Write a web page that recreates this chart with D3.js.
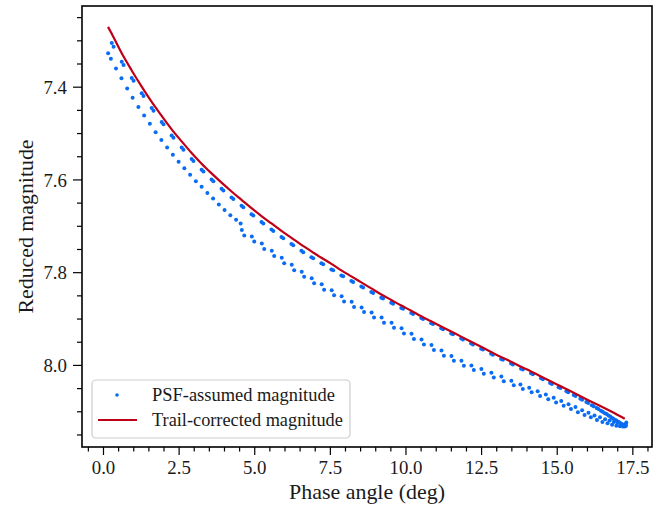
<!DOCTYPE html>
<html>
<head>
<meta charset="utf-8">
<script src="https://cdn.jsdelivr.net/npm/d3@7"></script>
<style>body{margin:0;background:#fff}svg{display:block}</style>
</head>
<body>
<svg id="c" width="665" height="510"></svg>
<script>
// ---------------- data ----------------
const redPhase = [0.166,0.29,0.62,0.95,1.28,1.61,1.94,2.27,2.60,2.93,3.26,3.59,3.92,4.25,4.58,4.91,5.24,5.57,5.90,6.23,6.56,6.89,7.22,7.55,7.88,8.21,8.54,8.87,9.20,9.53,9.86,10.19,10.52,10.85,11.18,11.51,11.84,12.17,12.50,12.83,13.16,13.49,13.82,14.15,14.48,15.06,15.56,15.98,16.46,16.82,17.25];
const redMag = [7.271,7.286,7.328,7.365,7.400,7.433,7.463,7.492,7.518,7.543,7.566,7.587,7.607,7.626,7.644,7.662,7.679,7.695,7.711,7.726,7.741,7.755,7.769,7.782,7.796,7.809,7.822,7.835,7.848,7.860,7.872,7.883,7.895,7.906,7.917,7.928,7.939,7.950,7.961,7.972,7.983,7.993,8.004,8.014,8.025,8.044,8.060,8.074,8.089,8.101,8.116];

const psfUpperPhase = [0.29,0.35,0.62,0.68,0.95,1.01,1.28,1.34,1.61,1.67,1.94,2.00,2.27,2.33,2.60,2.66,2.93,2.99,3.26,3.32,3.59,3.65,3.92,3.98,4.25,4.31,4.58,4.64,4.91,4.97,5.24,5.30,5.57,5.63,5.90,5.96,6.23,6.29,6.56,6.62,6.89,6.95,7.22,7.28,7.55,7.61,7.88,7.94,8.21,8.27,8.54,8.60,8.87,8.93,9.20,9.26,9.53,9.59,9.86,9.92,10.19,10.25,10.52,10.58,10.85,10.91,11.18,11.24,11.51,11.57,11.84,11.90,12.17,12.23,12.50,12.56,12.83,12.89,13.16,13.22,13.49,13.55,13.82,13.88,14.15,14.21,14.48,14.54,14.78,14.84,15.06,15.12,15.32,15.38,15.56,15.62,15.78,15.84,15.98,16.04,16.16,16.22,16.32,16.38,16.46,16.52,16.59,16.65,16.71,16.77,16.82,16.87,16.92,16.97,17.01,17.05,17.09,17.13,17.16,17.19,17.22,17.25];
const psfUpperMag = [7.306,7.314,7.346,7.353,7.381,7.387,7.414,7.420,7.446,7.452,7.476,7.481,7.505,7.510,7.531,7.536,7.556,7.560,7.579,7.583,7.600,7.604,7.620,7.624,7.639,7.642,7.657,7.660,7.675,7.678,7.692,7.695,7.708,7.711,7.724,7.727,7.739,7.742,7.754,7.757,7.768,7.770,7.781,7.783,7.794,7.796,7.807,7.809,7.819,7.821,7.831,7.833,7.843,7.845,7.855,7.857,7.866,7.868,7.877,7.879,7.888,7.890,7.899,7.901,7.910,7.912,7.921,7.923,7.932,7.934,7.943,7.945,7.954,7.956,7.965,7.967,7.976,7.978,7.987,7.989,7.997,7.999,8.008,8.010,8.018,8.020,8.029,8.031,8.039,8.041,8.048,8.050,8.057,8.059,8.065,8.067,8.073,8.075,8.080,8.082,8.087,8.089,8.093,8.095,8.099,8.101,8.104,8.106,8.109,8.111,8.114,8.116,8.118,8.120,8.122,8.123,8.125,8.127,8.128,8.129,8.130,8.131];

const psfLowerPhase = [0.17,0.26,0.43,0.61,0.80,0.98,1.17,1.36,1.55,1.74,1.93,2.12,2.31,2.50,2.69,2.88,3.07,3.26,3.45,3.64,3.83,4.02,4.21,4.40,4.55,
  4.59,4.67,4.92,5.00,5.25,5.33,5.58,5.66,5.91,5.99,6.24,6.32,6.57,6.65,6.90,6.98,7.23,7.31,7.56,7.64,7.89,7.97,8.22,8.30,8.55,8.63,8.88,8.96,9.21,9.29,9.54,9.62,9.87,9.95,10.20,10.28,10.53,10.61,10.86,10.94,11.19,11.27,11.52,11.60,11.85,11.93,12.18,12.26,12.51,12.59,12.84,12.92,13.17,13.25,13.50,13.58,13.80,13.88,14.09,14.17,14.37,14.45,14.64,14.72,14.90,14.98,15.15,15.23,15.39,15.47,15.62,15.70,15.84,15.92,16.05,16.13,16.25,16.33,16.43,16.51,16.60,16.68,16.75,16.83,16.89,16.97,17.01,17.09,17.11,17.19,17.19,17.25,17.25,17.29,17.29,17.30];
const psfLowerMag = [7.328,7.340,7.361,7.382,7.404,7.424,7.444,7.462,7.480,7.498,7.515,7.531,7.547,7.562,7.576,7.590,7.604,7.616,7.629,7.641,7.654,7.666,7.677,7.687,7.695,
  7.709,7.721,7.723,7.734,7.738,7.750,7.754,7.765,7.769,7.781,7.784,7.796,7.799,7.810,7.813,7.824,7.826,7.838,7.839,7.850,7.852,7.863,7.864,7.875,7.876,7.886,7.887,7.898,7.898,7.909,7.909,7.920,7.921,7.932,7.933,7.944,7.945,7.956,7.957,7.968,7.969,7.980,7.981,7.991,7.991,8.002,8.001,8.011,8.009,8.019,8.017,8.027,8.025,8.035,8.034,8.044,8.042,8.052,8.049,8.059,8.057,8.067,8.064,8.074,8.071,8.081,8.078,8.088,8.085,8.095,8.091,8.102,8.098,8.108,8.103,8.113,8.109,8.119,8.113,8.123,8.117,8.126,8.120,8.129,8.123,8.131,8.125,8.132,8.127,8.133,8.129,8.133,8.130,8.131,8.127,8.124];

const xMajor = [0,2.5,5,7.5,10,12.5,15,17.5];
const xTickLabels = ["0.0","2.5","5.0","7.5","10.0","12.5","15.0","17.5"];
const xMinor = [-0.5,0.5,1,1.5,2,3,3.5,4,4.5,5.5,6,6.5,7,8,8.5,9,9.5,10.5,11,11.5,12,13,13.5,14,14.5,15.5,16,16.5,17,18];
const yMajor = [7.4,7.6,7.8,8.0];
const yTickLabels = ["7.4","7.6","7.8","8.0"];
const yMinor = [7.25,7.3,7.35,7.45,7.5,7.55,7.65,7.7,7.75,7.85,7.9,7.95,8.05,8.1,8.15];

const seriesNames = ["PSF-assumed magnitude","Trail-corrected magnitude"];
const xLabel = "Phase angle (deg)";
const yLabel = "Reduced magnitude";

// ---------------- drawing ----------------
const BLUE = "#0a6cf2", RED = "#be0119";
const M = {l:82, r:652, t:6, b:447};
const svg = d3.select("#c");

// pick an installed serif face
function available(name){
  const t = svg.append("text").attr("x",-999).attr("y",-999).style("font-size","40px").text("mmmmmwwwlliiQRg0123");
  t.style("font-family","monospace");
  const w0 = t.node().getComputedTextLength();
  t.style("font-family",`'${name}',monospace`);
  const w1 = t.node().getComputedTextLength();
  t.remove();
  return Math.abs(w1-w0) > 0.5;
}
const serifChoices = ["Liberation Serif","Times New Roman","DejaVu Serif","Noto Serif","FreeSerif"];
const face = serifChoices.find(available);
const FONT = face ? `'${face}',serif` : "serif";

// fit a text element to a target width
function fit(sel, target){
  const base = 20;
  sel.style("font-size", base+"px");
  const w = sel.node().getComputedTextLength();
  const fs = w > 0 ? base*target/w : base;
  sel.style("font-size", fs.toFixed(2)+"px");
  return fs;
}

const x = d3.scaleLinear().domain([-0.694, 18.15]).range([M.l, M.r]);
const y = d3.scaleLinear().domain([7.226, 8.177]).range([M.t, M.b]);

svg.append("defs").append("clipPath").attr("id","clip")
  .append("rect").attr("x",M.l).attr("y",M.t).attr("width",M.r-M.l).attr("height",M.b-M.t);

const psf = d3.zip(psfLowerPhase, psfLowerMag).concat(d3.zip(psfUpperPhase, psfUpperMag));
const red = d3.zip(redPhase, redMag);

const plot = svg.append("g").attr("clip-path","url(#clip)");
plot.append("g").selectAll("circle").data(psf).join("circle")
  .attr("cx", d => x(d[0])).attr("cy", d => y(d[1])).attr("r", 2.0).attr("fill", BLUE);

plot.append("path").datum(red)
  .attr("d", d3.line().x(d => x(d[0])).y(d => y(d[1])).curve(d3.curveMonotoneX))
  .attr("fill","none").attr("stroke",RED).attr("stroke-width",2.2);

// tick font size: fitted so that "17.5" is ~33px wide
const probe = svg.append("text").style("font-family",FONT).text("17.5");
const tickFs = Math.min(21, fit(probe, 33));
probe.remove();

// axes
const gx = svg.append("g").attr("transform",`translate(0,${M.b})`)
  .call(d3.axisBottom(x).tickValues(xMajor).tickFormat((d,i)=>xTickLabels[i]).tickSize(8).tickPadding(6));
const gxm = svg.append("g").attr("transform",`translate(0,${M.b})`)
  .call(d3.axisBottom(x).tickValues(xMinor).tickFormat("").tickSize(4.5));
const gy = svg.append("g").attr("transform",`translate(${M.l},0)`)
  .call(d3.axisLeft(y).tickValues(yMajor).tickFormat((d,i)=>yTickLabels[i]).tickSize(9).tickPadding(6));
const gym = svg.append("g").attr("transform",`translate(${M.l},0)`)
  .call(d3.axisLeft(y).tickValues(yMinor).tickFormat("").tickSize(5));

[gx,gxm,gy,gym].forEach(g => {
  g.select(".domain").remove();
  g.selectAll(".tick line").attr("stroke","#000").attr("stroke-width",1.2);
  g.selectAll(".tick text").attr("fill","#1a1a1a").style("font-family",FONT).style("font-size",tickFs+"px");
});
gy.selectAll(".tick text").attr("dy","0.36em");

// frame
svg.append("rect").attr("x",M.l).attr("y",M.t).attr("width",M.r-M.l).attr("height",M.b-M.t)
  .attr("fill","none").attr("stroke","#000").attr("stroke-width",1.6);

// axis labels
const xl = svg.append("text").attr("x",(M.l+M.r)/2).attr("y",499).attr("text-anchor","middle")
  .style("font-family",FONT).attr("fill","#1a1a1a").text(xLabel);
fit(xl, 156);
const yl = svg.append("text").attr("transform",`translate(33,${(M.t+M.b)/2}) rotate(-90)`).attr("text-anchor","middle")
  .style("font-family",FONT).attr("fill","#1a1a1a").text(yLabel);
fit(yl, 174);

// legend
const lg = svg.append("g");
lg.append("rect").attr("x",92).attr("y",380).attr("width",258).attr("height",58).attr("rx",4)
  .attr("fill","#fff").attr("fill-opacity",0.8).attr("stroke","#cccccc").attr("stroke-width",1.2);
lg.append("circle").attr("cx",117).attr("cy",395).attr("r",1.8).attr("fill",BLUE);
lg.append("line").attr("x1",98).attr("x2",137).attr("y1",420).attr("y2",420).attr("stroke",RED).attr("stroke-width",2.2);
const t1 = lg.append("text").attr("x",152).attr("y",401).style("font-family",FONT).attr("fill","#1a1a1a").text(seriesNames[0]);
fit(t1, 183);
const t2 = lg.append("text").attr("x",152).attr("y",426).style("font-family",FONT).attr("fill","#1a1a1a").text(seriesNames[1]);
fit(t2, 191);
</script>
</body>
</html>
